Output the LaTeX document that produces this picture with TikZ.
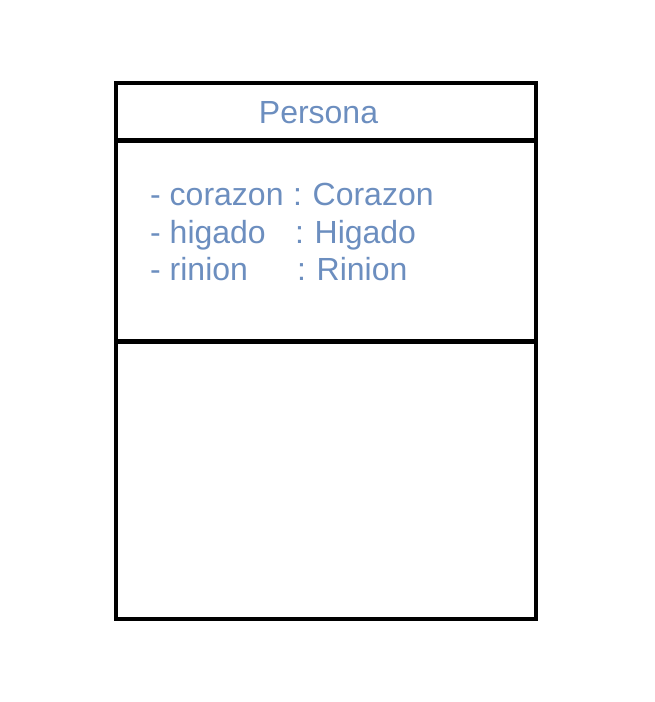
\documentclass[tikz,border=0pt]{standalone}
\usepackage{fontspec}
\setmainfont{Liberation Sans}
\definecolor{txtblue}{HTML}{6C8EBF}
\begin{document}
\begin{tikzpicture}[x=1pt,y=-1pt,
  frame/.style={line width=4.5pt, draw=black},
  lbl/.style={text=txtblue, inner sep=0pt, font=\fontsize{32}{38}\selectfont},
  attr/.style={lbl, anchor=base west}]
\useasboundingbox (0,0) rectangle (655,702);
\coordinate (tl) at (116,83);
\coordinate (br) at (536,619);
\coordinate (d1l) at (116,140.5);
\coordinate (d1r) at (536,140.5);
\coordinate (d2l) at (116,341.5);
\coordinate (d2r) at (536,341.5);
\draw[frame] (tl) rectangle (br);
\draw[frame] (d1l) -- (d1r);
\draw[frame] (d2l) -- (d2r);
\node[lbl, anchor=base] (title) at (318.5,123) {Persona};
\node[attr] (n1) at (150,205) {- corazon};
\node[attr] (t1) at (293,205) {:\hspace{0.33em}Corazon};
\node[attr] (n2) at (150,243) {- higado};
\node[attr] (t2) at (295,243) {:\hspace{0.33em}Higado};
\node[attr] (n3) at (150,280) {- rinion};
\node[attr] (t3) at (297,280) {:\hspace{0.33em}Rinion};
\end{tikzpicture}
\end{document}
